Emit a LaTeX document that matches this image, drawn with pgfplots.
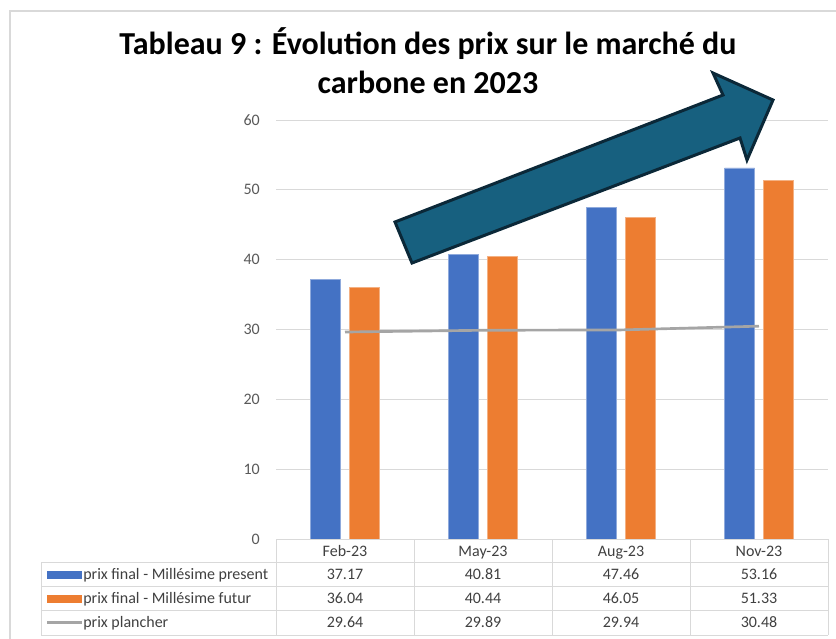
\documentclass[border=0pt]{standalone}
\usepackage{fontspec}
\setmainfont{Carlito}
\usepackage{pgfplots}
\pgfplotsset{compat=1.18}
\definecolor{cblue}{HTML}{4472C4}
\definecolor{corange}{HTML}{ED7D31}
\definecolor{cgray}{HTML}{A5A5A5}
\definecolor{gridc}{HTML}{D9D9D9}
\definecolor{txt}{HTML}{404040}
\definecolor{tickc}{HTML}{595959}
\definecolor{arrowfill}{HTML}{17607F}
\definecolor{arrowdraw}{HTML}{0B2838}
\begin{document}
\begin{tikzpicture}
\begin{scope}[x=0.75pt,y=-0.75pt]
\path[use as bounding box] (0,0) rectangle (836,639);
\draw[gridc, line width=1.5pt] (10,639) -- (10,11) -- (836,11);
\end{scope}
\begin{axis}[
 at={(207pt,-404.25pt)}, anchor=south west,
 scale only axis, width=414pt, height=314.25pt,
 xmin=-0.5, xmax=3.5, ymin=0, ymax=60,
 ytick={0,10,...,60}, xtick=\empty,
 ymajorgrids, grid style={gridc, line width=0.75pt},
 axis line style={draw=none}, major tick length=0pt,
 yticklabel style={font=\fontsize{12}{14}\selectfont, text=tickc, inner sep=0pt, xshift=-12pt},
 /pgf/number format/assume math mode=true,
 clip=false,
]
\addplot[ybar, bar width=22.5pt, bar shift=-14.6pt, fill=cblue, draw=cblue!60!white, line width=0.4pt] coordinates {(0,37.17) (1,40.81) (2,47.46) (3,53.16)};
\addplot[ybar, bar width=22.5pt, bar shift=14.6pt, fill=corange, draw=corange!60!white, line width=0.4pt] coordinates {(0,36.04) (1,40.44) (2,46.05) (3,51.33)};
\addplot[cgray, line width=2pt, mark=none] coordinates {(0,29.64) (1,29.89) (2,29.94) (3,30.48)};
\end{axis}
\begin{scope}[x=0.75pt,y=-0.75pt]
% table grid
\draw[gridc, line width=0.75pt] (276,539) -- (828,539);
\foreach \yy in {562.5,586.5,610.5,635} \draw[gridc, line width=0.75pt] (41,\yy) -- (828,\yy);
\draw[gridc, line width=0.75pt] (41,562.5) -- (41,635);
\foreach \xx in {276,414,552,690,828} \draw[gridc, line width=0.75pt] (\xx,539) -- (\xx,635);
% header
\foreach \xx/\t in {345/Feb-23,483/May-23,621/Aug-23,759/Nov-23}
  \node[anchor=base, inner sep=0pt, font=\fontsize{12}{14}\selectfont, text=txt] at (\xx,556) {\t};
% legend keys
\fill[cblue] (47,570.5) rectangle (82,578.5);
\fill[corange] (47,594.5) rectangle (82,602.5);
\draw[cgray, line width=2pt] (47,622.5) -- (82,622.5);
\node[anchor=base west, inner sep=0pt, font=\fontsize{12}{14}\selectfont, text=txt] at (83,579.5) {prix final - Millésime present};
\node[anchor=base west, inner sep=0pt, font=\fontsize{12}{14}\selectfont, text=txt] at (83,603.5) {prix final - Millésime futur};
\node[anchor=base west, inner sep=0pt, font=\fontsize{12}{14}\selectfont, text=txt] at (83,627.5) {prix plancher};
% values
\foreach \xx/\a/\b/\c in {345/37.17/36.04/29.64,483/40.81/40.44/29.89,621/47.46/46.05/29.94,759/53.16/51.33/30.48}{
  \node[anchor=base, inner sep=0pt, font=\fontsize{12}{14}\selectfont, text=txt] at (\xx,579.5) {\a};
  \node[anchor=base, inner sep=0pt, font=\fontsize{12}{14}\selectfont, text=txt] at (\xx,603.5) {\b};
  \node[anchor=base, inner sep=0pt, font=\fontsize{12}{14}\selectfont, text=txt] at (\xx,627.5) {\c};
}
% arrow
\draw[arrowdraw, fill=arrowfill, line width=2.25pt, line join=miter]
  (395,222) -- (723,95) -- (713,73) -- (773,100) -- (747,160) -- (740,138) -- (412,263) -- cycle;
% title
\node[anchor=base, font=\bfseries\fontsize{24}{28}\selectfont] at (428,55) {Tableau 9 : Évolution des prix sur le marché du};
\node[anchor=base, font=\bfseries\fontsize{24}{28}\selectfont] at (428,93) {carbone en 2023};
\end{scope}
\end{tikzpicture}
\end{document}
